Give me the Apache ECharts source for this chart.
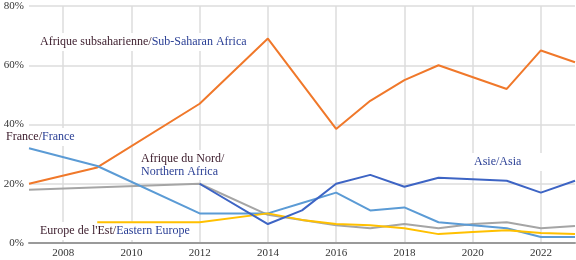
<!DOCTYPE html>
<html><head><meta charset="utf-8">
<script src="https://cdn.jsdelivr.net/npm/echarts@6/dist/echarts.min.js"></script>
<style>html,body{margin:0;padding:0;background:#fff}#c{width:576px;height:260px}</style>
</head><body><div id="c"></div>
<script>
const years = ['2007','2008','2009','2010','2011','2012','2013','2014','2015','2016','2017','2018','2019','2020','2021','2022','2023'];
const yTicks = [0, 20, 40, 60, 80];
const subSaharan = [20, null, 25.5, null, null, 47, null, 69, null, 38.5, 48, 55, 60, null, 52, 65, 61];
const france = [32, null, 26, null, null, 10, null, 10, 13.5, 17, 11, 12, 7, 6, 5, 2, 2];
const northAfrica = [18, null, null, null, null, 20, null, 9.5, 7.8, 6, 5, 6.4, 5, 6.4, 7, 5, 5.7];
const asia = [null, null, null, null, null, 20, null, 6.4, 11, 20, 23, 19, 22, 21.5, 21, 17, 21];
const easternEurope = [null, null, 7, null, null, 7, null, 10, 7.8, 6.4, 6, 5, 3, 3.7, 4.3, 3.4, 3];

const FONT = '"Liberation Serif", "DejaVu Serif", serif';
const FR = '#3a1a2a', EN = '#2a3f95';
const chart = echarts.init(document.getElementById('c'), null, {renderer: 'canvas'});
function mk(name, data, color) {
  return {name, type: 'line', data, connectNulls: true, showSymbol: false, symbol: 'none',
    lineStyle: {color, width: 2}, itemStyle: {color}, z: 3, animation: false};
}
function lbl(x, y, fr, en) {
  return {type: 'text', left: x, top: y, z: 1,
    style: {text: '{a|' + fr + '}{b|' + en + '}', font: '12px ' + FONT,
      backgroundColor: '#fff', padding: [3, 6, 3, 6],
      rich: {a: {fill: FR, fontFamily: FONT, fontSize: 12}, b: {fill: EN, fontFamily: FONT, fontSize: 12}}}};
}
chart.setOption({
  animation: false,
  grid: {left: 29, right: 1, top: 6, bottom: 17, containLabel: false},
  xAxis: {type: 'category', data: years, boundaryGap: false,
    axisLine: {show: true, lineStyle: {color: '#9a9a9a', width: 2}},
    axisTick: {show: false},
    axisLabel: {interval: (i) => i % 2 === 1, color: '#333', fontFamily: FONT, fontSize: 11, margin: 5},
    splitLine: {show: true, interval: (i) => i % 2 === 1, lineStyle: {color: '#dcdcdc', width: 1.5}}},
  yAxis: {type: 'value', min: yTicks[0], max: yTicks[yTicks.length - 1], interval: 20,
    axisLine: {show: false}, axisTick: {show: false},
    axisLabel: {formatter: '{value}%', color: '#333', fontFamily: FONT, fontSize: 11, margin: 5},
    splitLine: {lineStyle: {color: '#dcdcdc', width: 1.5}}},
  series: [
    mk('Afrique subsaharienne/Sub-Saharan Africa', subSaharan, '#f0782a'),
    mk('Afrique du Nord/Northern Africa', northAfrica, '#a5a5a5'),
    mk('France/France', france, '#5b9bd5'),
    mk('Europe de l\'Est/Eastern Europe', easternEurope, '#ffc000'),
    mk('Asie/Asia', asia, '#3d64c4')
  ],
  graphic: [
    lbl(34, 33, 'Afrique subsaharienne/', 'Sub-Saharan Africa'),
    lbl(0, 128, 'France/', 'France'),
    {type: 'text', left: 134, top: 150, z: 1,
      style: {text: '{a|Afrique du Nord/}\n{b|Northern Africa}', font: '12px ' + FONT, lineHeight: 13,
        backgroundColor: '#fff', padding: [2, 7, 2, 7],
        rich: {a: {fill: FR, fontFamily: FONT, fontSize: 12, lineHeight: 13}, b: {fill: EN, fontFamily: FONT, fontSize: 12, lineHeight: 13}}}},
    {type: 'text', left: 468, top: 153, z: 1,
      style: {text: '{b|Asie/Asia}', font: '12px ' + FONT, backgroundColor: '#fff', padding: [3, 30, 3, 6],
        rich: {b: {fill: EN, fontFamily: FONT, fontSize: 12}}}},
    lbl(34, 222, 'Europe de l\'Est/', 'Eastern Europe')
  ]
});
</script></body></html>
